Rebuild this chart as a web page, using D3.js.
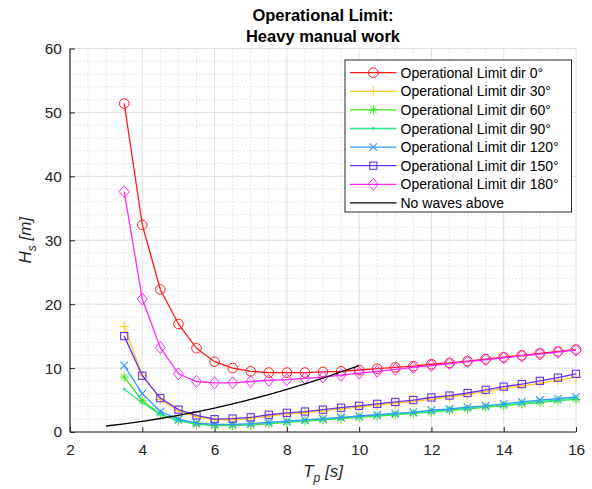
<!DOCTYPE html>
<html><head><meta charset="utf-8">
<script src="https://cdn.jsdelivr.net/npm/d3@7"></script>
<style>
body{margin:0;background:#fff;}
svg{display:block;font-family:"Liberation Sans",Arial,Helvetica,sans-serif;}
</style></head>
<body><svg id="c" width="592" height="489"></svg>
<script>
// ---- data ----
const tp = [3.5,4,4.5,5,5.5,6,6.5,7,7.5,8,8.5,9,9.5,10,10.5,11,11.5,12,12.5,13,13.5,14,14.5,15,15.5,16];
const lim0   = [51.4,32.4,22.3,16.9,13.1,11.0,10.0,9.5,9.3,9.3,9.3,9.4,9.5,9.7,9.9,10.1,10.3,10.6,10.8,11.1,11.4,11.7,12.0,12.3,12.6,12.9];
const lim30  = [16.5,8.9,5.1,3.3,2.4,1.9,1.9,2.1,2.5,2.8,3.0,3.3,3.6,3.9,4.2,4.5,4.8,5.1,5.5,5.9,6.3,6.8,7.2,7.6,8.1,8.6];
const lim60  = [8.6,4.9,2.8,1.8,1.2,1.0,1.0,1.1,1.3,1.5,1.7,1.9,2.1,2.3,2.5,2.7,2.9,3.1,3.4,3.6,3.9,4.1,4.4,4.6,4.9,5.1];
const lim90  = [6.7,4.6,2.7,1.8,1.3,1.1,1.1,1.2,1.4,1.6,1.8,2.0,2.2,2.4,2.6,2.8,3.0,3.2,3.5,3.7,4.0,4.2,4.5,4.8,5.0,5.3];
const lim120 = [10.4,6.0,3.2,2.0,1.4,1.2,1.2,1.3,1.5,1.7,1.9,2.1,2.3,2.5,2.7,2.9,3.1,3.4,3.6,3.9,4.1,4.4,4.7,5.0,5.2,5.5];
const lim150 = [15.0,8.8,5.3,3.5,2.6,2.0,2.1,2.3,2.7,3.0,3.2,3.5,3.8,4.1,4.4,4.7,5.0,5.4,5.7,6.1,6.6,7.1,7.5,8.0,8.5,9.1];
const lim180 = [37.6,20.8,13.2,9.1,7.9,7.7,7.7,7.9,8.1,8.2,8.4,8.6,8.9,9.2,9.5,9.8,10.1,10.4,10.7,11.0,11.3,11.6,11.9,12.2,12.5,12.8];
const tpNoWaves = [3,3.5,4,4.5,5,5.5,6,6.5,7,7.5,8,8.5,9,9.5,10];
const noWaves   = [0.94,1.28,1.67,2.11,2.6,3.15,3.75,4.4,5.1,5.86,6.67,7.53,8.44,9.4,10.4];
const seriesNames = ["Operational Limit dir 0°","Operational Limit dir 30°","Operational Limit dir 60°","Operational Limit dir 90°","Operational Limit dir 120°","Operational Limit dir 150°","Operational Limit dir 180°","No waves above"];
const xTicks = [2,4,6,8,10,12,14,16];
const yTicks = [0,10,20,30,40,50,60];
const titleLines = ["Operational Limit:","Heavy manual work"];

// ---- styles ----
const colors  = ["#ff1a1a","#ffcc1a","#3ee61a","#2ee88f","#2e9bff","#6633ee","#ff26ff","#000000"];
const markers = ["circle","plus","asterisk","point","x","square","diamond","none"];
const ys = [lim0,lim30,lim60,lim90,lim120,lim150,lim180];

const svg = d3.select("#c");
const m = {l:70, r:576, t:48.5, b:432};
const x = d3.scaleLinear().domain([2,16]).range([m.l,m.r]);
const y = d3.scaleLinear().domain([0,60]).range([m.b,m.t]);

// grid minor
const g = svg.append("g");
g.selectAll(".mx").data(d3.range(2.5,16,0.5).filter(v=>v%2!==0)).join("line")
  .attr("x1",d=>x(d)).attr("x2",d=>x(d)).attr("y1",m.t).attr("y2",m.b)
  .attr("stroke","#dcdcdc").attr("stroke-width",1).attr("stroke-dasharray","1.2,2.2");
g.selectAll(".my").data(d3.range(2,60,2).filter(v=>v%10!==0)).join("line")
  .attr("y1",d=>y(d)).attr("y2",d=>y(d)).attr("x1",m.l).attr("x2",m.r)
  .attr("stroke","#dcdcdc").attr("stroke-width",1).attr("stroke-dasharray","1.2,2.2");
// grid major
g.selectAll(".gx").data(xTicks).join("line")
  .attr("x1",d=>x(d)).attr("x2",d=>x(d)).attr("y1",m.t).attr("y2",m.b)
  .attr("stroke","#e0e0e0").attr("stroke-width",1);
g.selectAll(".gy").data(yTicks).join("line")
  .attr("y1",d=>y(d)).attr("y2",d=>y(d)).attr("x1",m.l).attr("x2",m.r)
  .attr("stroke","#e0e0e0").attr("stroke-width",1);

// axes
const ax = svg.append("g").attr("transform",`translate(0,${m.b})`)
  .call(d3.axisBottom(x).tickValues(xTicks).tickSize(-5).tickPadding(12).tickFormat(d3.format("d")));
const ay = svg.append("g").attr("transform",`translate(${m.l},0)`)
  .call(d3.axisLeft(y).tickValues(yTicks).tickSize(-5).tickPadding(8).tickFormat(d3.format("d")));
[ax,ay].forEach(a=>{
  a.select(".domain").attr("stroke","#262626").attr("stroke-width",1.2);
  a.selectAll(".tick line").attr("stroke","#262626").attr("stroke-width",1);
  a.selectAll(".tick text").attr("fill","#262626").attr("font-size",15.5).attr("font-family","Liberation Sans, Arial, sans-serif");
});
ax.select(".domain").attr("d",`M${m.l},0H${m.r}`);
ay.select(".domain").attr("d",`M0,${m.b}V${m.t}`);

// marker drawing
function drawMarker(sel, type, color){
  if(type==="circle") sel.append("circle").attr("r",4.8).attr("fill","none").attr("stroke",color).attr("stroke-width",1);
  else if(type==="plus") sel.append("path").attr("d",`M-5,0H5M0,-5V5`).attr("stroke",color).attr("stroke-width",1);
  else if(type==="asterisk") sel.append("path").attr("d",`M-4.5,0H4.5M0,-4.5V4.5M-3.3,-3.3L3.3,3.3M-3.3,3.3L3.3,-3.3`).attr("stroke",color).attr("stroke-width",1);
  else if(type==="point") sel.append("circle").attr("r",1.4).attr("fill",color);
  else if(type==="x") sel.append("path").attr("d",`M-3.8,-3.8L3.8,3.8M-3.8,3.8L3.8,-3.8`).attr("stroke",color).attr("stroke-width",1.1);
  else if(type==="square") sel.append("rect").attr("x",-3.6).attr("y",-3.6).attr("width",7.2).attr("height",7.2).attr("fill","none").attr("stroke",color).attr("stroke-width",1.1);
  else if(type==="diamond") sel.append("path").attr("d",`M0,-6L5,0L0,6L-5,0Z`).attr("fill","none").attr("stroke",color).attr("stroke-width",1);
}

const line = d3.line().x(d=>x(d[0])).y(d=>y(d[1])).curve(d3.curveLinear);
const plot = svg.append("g");
ys.forEach((vals,i)=>{
  const pts = tp.map((t,j)=>[t,vals[j]]);
  plot.append("path").datum(pts).attr("d",line).attr("fill","none")
    .attr("stroke",colors[i]).attr("stroke-width",1.3);
  pts.forEach(p=>{
    const gg = plot.append("g").attr("transform",`translate(${x(p[0])},${y(p[1])})`);
    drawMarker(gg, markers[i], colors[i]);
  });
});
plot.append("path").datum(tpNoWaves.map((t,j)=>[t,noWaves[j]])).attr("d",line)
  .attr("fill","none").attr("stroke","#000").attr("stroke-width",1.3);

// title
svg.append("g").selectAll("text").data(titleLines).join("text")
  .attr("x",(m.l+m.r)/2).attr("y",(d,i)=>21+i*20.5).attr("text-anchor","middle")
  .attr("font-weight","bold").attr("font-size",16.5).attr("fill","#000").text(d=>d);

// axis labels
const xl = svg.append("text").attr("x",(m.l+m.r)/2).attr("y",477).attr("text-anchor","middle")
  .attr("font-size",17).attr("fill","#262626");
xl.append("tspan").attr("font-style","italic").text("T");
xl.append("tspan").attr("font-style","italic").attr("font-size",12).attr("dy",5).text("p");
xl.append("tspan").attr("font-style","italic").attr("dy",-5).text(" [s]");
const yl = svg.append("text").attr("transform",`translate(31,${(m.t+m.b)/2}) rotate(-90)`)
  .attr("text-anchor","middle").attr("font-size",17).attr("fill","#262626");
yl.append("tspan").attr("font-style","italic").text("H");
yl.append("tspan").attr("font-style","italic").attr("font-size",12).attr("dy",5).text("s");
yl.append("tspan").attr("font-style","italic").attr("dy",-5).text(" [m]");

// legend
const lg = svg.append("g");
lg.append("rect").attr("x",345).attr("y",60).attr("width",226.5).attr("height",152)
  .attr("fill","#fff").attr("stroke","#262626").attr("stroke-width",1);
seriesNames.forEach((name,i)=>{
  const yy = 72.7 + i*18.6;
  lg.append("line").attr("x1",350).attr("x2",396.5).attr("y1",yy).attr("y2",yy)
    .attr("stroke",colors[i]).attr("stroke-width",1.3);
  if(markers[i]!=="none"){
    const gg = lg.append("g").attr("transform",`translate(373.3,${yy})`);
    drawMarker(gg, markers[i], colors[i]);
  }
  lg.append("text").attr("x",400.5).attr("y",yy+5).attr("font-size",14).attr("fill","#000").text(name);
});
</script></body></html>
